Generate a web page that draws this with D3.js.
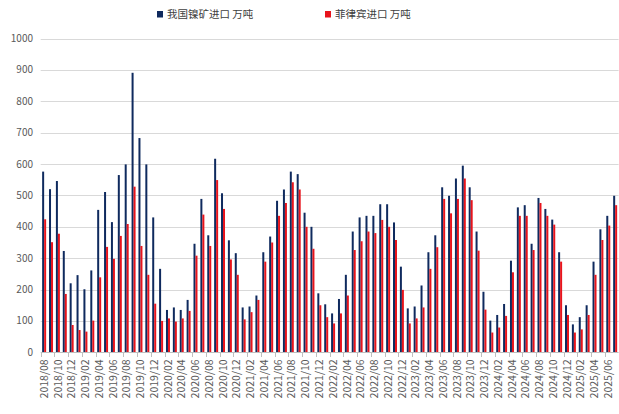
<!DOCTYPE html>
<html><head><meta charset="utf-8">
<script src="https://cdn.jsdelivr.net/npm/d3@7/dist/d3.min.js"></script>
<style>
html,body{margin:0;padding:0;background:#fff;}
svg{display:block;font-family:"Noto Sans CJK SC","Noto Sans",sans-serif;}
</style></head>
<body><svg id="chart" width="619" height="414"></svg>
<script>
const months = [
"2018/08","2018/09","2018/10","2018/11","2018/12",
"2019/01","2019/02","2019/03","2019/04","2019/05","2019/06","2019/07","2019/08","2019/09","2019/10","2019/11","2019/12",
"2020/01","2020/02","2020/03","2020/04","2020/05","2020/06","2020/07","2020/08","2020/09","2020/10","2020/11","2020/12",
"2021/01","2021/02","2021/03","2021/04","2021/05","2021/06","2021/07","2021/08","2021/09","2021/10","2021/11","2021/12",
"2022/01","2022/02","2022/03","2022/04","2022/05","2022/06","2022/07","2022/08","2022/09","2022/10","2022/11","2022/12",
"2023/01","2023/02","2023/03","2023/04","2023/05","2023/06","2023/07","2023/08","2023/09","2023/10","2023/11","2023/12",
"2024/01","2024/02","2024/03","2024/04","2024/05","2024/06","2024/07","2024/08","2024/09","2024/10","2024/11","2024/12",
"2025/01","2025/02","2025/03","2025/04","2025/05","2025/06","2025/07"];
const nickelOreImports = [
576,520,546,323,220,
246,201,261,454,511,415,565,599,891,683,599,430,
266,135,143,135,167,346,489,373,617,507,357,316,
143,146,181,319,369,483,519,576,568,445,400,188,
153,124,170,247,385,430,435,435,472,472,414,273,
140,146,213,319,373,526,499,554,595,526,385,193,
101,119,154,292,462,469,346,492,457,423,319,150,
89,112,150,289,392,435,499];
const philippinesImports = [
424,351,378,186,87,
71,66,101,239,336,298,371,409,528,339,247,155,
100,108,98,108,132,308,439,339,549,457,296,247,
105,128,167,289,350,435,476,542,519,400,330,150,
112,92,124,181,326,354,385,380,422,400,358,199,
92,108,143,266,335,489,443,489,554,485,324,136,
63,79,116,255,435,435,326,476,435,407,289,119,
63,73,119,247,358,404,469];
const seriesNames = ["我国镍矿进口 万吨","菲律宾进口 万吨"];
const seriesColors = ["#0f2a5e","#e8141c"];
const yTicks = [0,100,200,300,400,500,600,700,800,900,1000];

const svg = d3.select("#chart");
const pL = 40.7, pR = 618.6, pT = 38.6, pB = 352.3;

const y = d3.scaleLinear().domain([0,1000]).range([pB, pT]);
const p = 0.42;
const x = d3.scaleBand().domain(months).range([pL, pR]).paddingInner(p).paddingOuter(p/2);
const xs = d3.scaleBand().domain([0,1]).range([0, x.bandwidth()]);
const xb = d3.scaleLinear().domain([0, months.length]).range([pL, pR]);

// gridlines
svg.append("g").selectAll("line").data(yTicks.filter(d=>d>0)).join("line")
  .attr("x1", pL).attr("x2", pR)
  .attr("y1", d=>Math.round(y(d))+0.5).attr("y2", d=>Math.round(y(d))+0.5)
  .attr("stroke","#d9d9d9").attr("stroke-width",1);

// y labels
svg.append("g").selectAll("text").data(yTicks).join("text")
  .attr("x", 33).attr("y", d=>y(d)).attr("dy","0.35em")
  .attr("text-anchor","end").attr("font-size",10).attr("fill","#595959")
  .text(d=>d);

// bars
const data = months.map((m,i)=>({m, v:[nickelOreImports[i], philippinesImports[i]]}));
const g = svg.append("g");
[0,1].forEach(s=>{
  g.append("g").selectAll("rect").data(data).join("rect")
    .attr("x", d=>x(d.m)+xs(s))
    .attr("width", xs.bandwidth())
    .attr("y", d=>y(d.v[s]))
    .attr("height", d=>pB - y(d.v[s]))
    .attr("fill", seriesColors[s]);
});

// x axis line
svg.append("line").attr("x1",pL).attr("x2",pR)
  .attr("y1",Math.round(pB)+0.5).attr("y2",Math.round(pB)+0.5)
  .attr("stroke","#bfbfbf");
svg.append("g").selectAll("line").data(d3.range(0, months.length+1, 2)).join("line")
  .attr("x1", d=>Math.round(xb(d))+0.5).attr("x2", d=>Math.round(xb(d))+0.5)
  .attr("y1", Math.round(pB)).attr("y2", Math.round(pB)+5)
  .attr("stroke","#bfbfbf");

// x labels
svg.append("g").selectAll("text").data(months.filter((m,i)=>i%2===0)).join("text")
  .attr("transform", d=>`translate(${x(d)+x.bandwidth()/2},${pB+7}) rotate(-90)`)
  .attr("text-anchor","end").attr("dy","0.35em")
  .attr("font-size",10.5).attr("fill","#595959")
  .text(d=>d);

// legend
const legX = [157, 325];
seriesNames.forEach((n,i)=>{
  svg.append("rect").attr("x",legX[i]).attr("y",11).attr("width",6).attr("height",6.5).attr("fill",seriesColors[i]);
  svg.append("text").attr("x",legX[i]+10).attr("y",14.5).attr("dy","0.35em")
    .attr("font-size",10.5).attr("fill","#404040").text(n);
});
</script></body></html>
